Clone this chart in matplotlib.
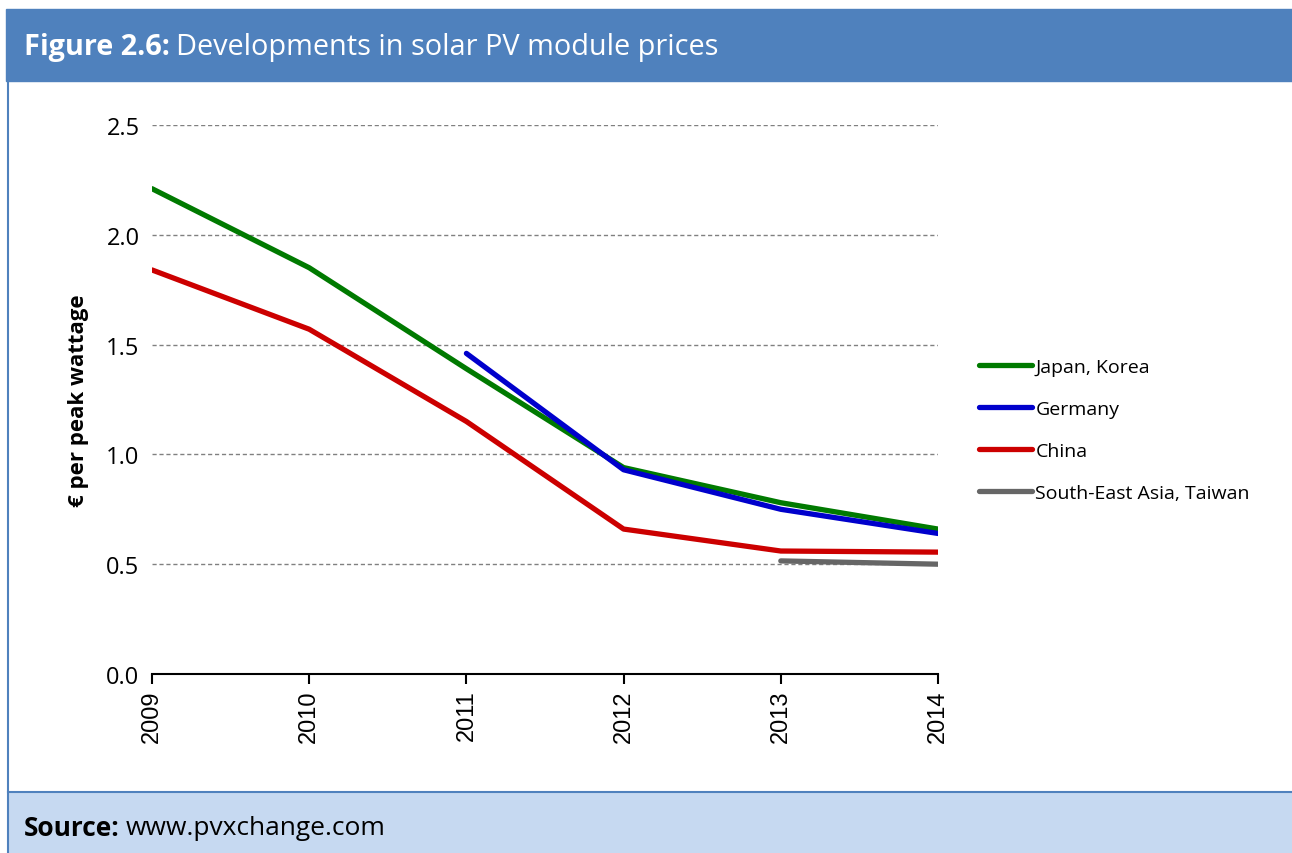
import matplotlib
matplotlib.use("Agg")
import matplotlib.pyplot as plt
from matplotlib.patches import Rectangle
from matplotlib.lines import Line2D

years = [2009, 2010, 2011, 2012, 2013, 2014]
year_labels = ["2009", "2010", "2011", "2012", "2013", "2014"]

japan_korea = [2.21, 1.85, 1.39, 0.94, 0.78, 0.66]
germany_years = [2011, 2012, 2013, 2014]
germany = [1.46, 0.93, 0.75, 0.64]
china = [1.84, 1.57, 1.15, 0.66, 0.56, 0.555]
sea_years = [2013, 2014]
sea_taiwan = [0.515, 0.50]

series = [
    ("Japan, Korea", years, japan_korea, "#007a00"),
    ("Germany", germany_years, germany, "#0000cc"),
    ("China", years, china, "#cc0000"),
    ("South-East Asia, Taiwan", sea_years, sea_taiwan, "#666666"),
]

plt.rcParams["font.family"] = ["Open Sans", "DejaVu Sans"]

W, H = 1292, 854
fig = plt.figure(figsize=(W / 100, H / 100), dpi=100)

# frame: header band, left border, source band
fig.patches.append(Rectangle((6 / W, 1 - 82 / H), 1 - 6 / W, 72 / H,
                             transform=fig.transFigure, color="#4f81bd", zorder=0))
fig.lines.append(Line2D([8 / W, 8 / W], [0, 1 - 82 / H], transform=fig.transFigure,
                        color="#4f81bd", lw=1.5))
fig.patches.append(Rectangle((8 / W, 0), 1 - 8 / W, 61 / H, transform=fig.transFigure,
                             facecolor="#c6d9f1", edgecolor="none", zorder=0))
fig.lines.append(Line2D([8 / W, 1], [61 / H, 61 / H], transform=fig.transFigure,
                        color="#4f81bd", lw=1.5))


def two_part(x, y, bold, rest, size, color):
    t = fig.text(x / W, y, bold, color=color, fontsize=size, fontweight="bold",
                 va="center", ha="left")
    r = fig.canvas.get_renderer()
    bb = t.get_window_extent(renderer=r)
    fig.text((bb.x1 + 0.3 * size) / W, y, rest, color=color, fontsize=size,
             va="center", ha="left")


two_part(24, 1 - 47 / H, "Figure 2.6:", "Developments in solar PV module prices",
         20.8, "white")
two_part(24, 1 - 829 / H, "Source:", "www.pvxchange.com", 19, "black")

ax = fig.add_axes([152 / W, 1 - 675 / H, (938 - 152) / W, (675 - 126) / H])
for name, xs, ys, c in series:
    ax.plot(xs, ys, color=c, lw=3.8, solid_capstyle="round", label=name)

ax.set_xlim(2009, 2014)
ax.set_ylim(0, 2.5)
ax.set_yticks([0.0, 0.5, 1.0, 1.5, 2.0, 2.5])
ax.set_yticklabels(["0.0", "0.5", "1.0", "1.5", "2.0", "2.5"], fontsize=17)
ax.set_xticks(years)
ax.set_xticklabels(year_labels, rotation=90, fontsize=17, family="Liberation Sans")
ax.tick_params(axis="y", length=0, pad=9)
ax.tick_params(axis="x", length=7, width=1.5, direction="out", pad=4)
for s in ["top", "right", "left"]:
    ax.spines[s].set_visible(False)
ax.spines["bottom"].set_linewidth(1.5)
ax.yaxis.grid(True, ls=(0, (3, 2)), color="#808080", lw=1)
ax.set_axisbelow(True)
ax.set_ylabel("€ per peak wattage", fontsize=16, fontweight="bold", labelpad=12)

ax.legend(loc="center left", bbox_to_anchor=(1.030, 0.445), frameon=False, fontsize=14,
          handlelength=2.7, handletextpad=0.2, labelspacing=1.23)

fig.savefig("out.png", dpi=100)
